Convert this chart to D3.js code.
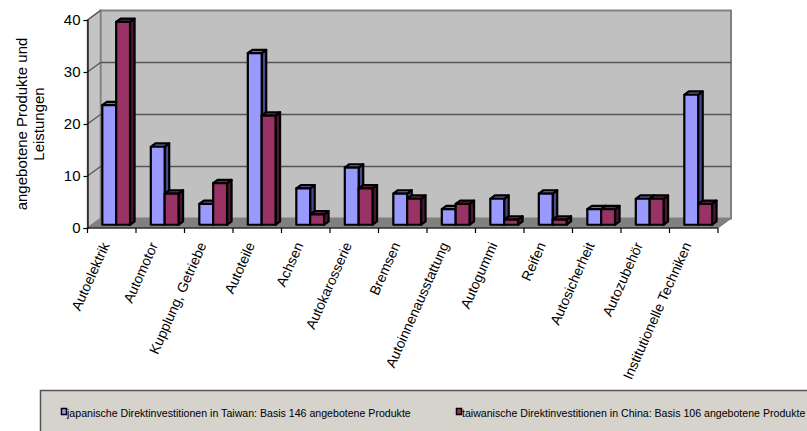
<!DOCTYPE html>
<html>
<head>
<meta charset="utf-8">
<script src="https://cdn.jsdelivr.net/npm/d3@7"></script>
<style>
  html, body { margin: 0; padding: 0; background: #ffffff; }
  svg { display: block; font-family: Arial, "Liberation Sans", sans-serif; }
</style>
</head>
<body>
<svg id="chart" width="807" height="431"></svg>
<script>
// Categories and values (3D clustered columns)
const categories = [
  "Autoelektrik", "Automotor", "Kupplung, Getriebe", "Autoteile", "Achsen",
  "Autokarosserie", "Bremsen", "Autoinnenausstattung", "Autogummi", "Reifen",
  "Autosicherheit", "Autozubehör", "Institutionelle Techniken"
];
const seriesNames = [
  "japanische Direktinvestitionen in Taiwan: Basis 146 angebotene Produkte",
  "taiwanische Direktinvestitionen in China: Basis 106 angebotene Produkte"
];
const japanValues  = [23, 15, 4, 33, 7, 11, 6, 3, 5, 6, 3, 5, 25];
const taiwanValues = [39, 6, 8, 21, 2, 7, 5, 4, 1, 1, 3, 5, 4];
const yTicks = [0, 10, 20, 30, 40];
const yTitle = ["angebotene Produkte und", "Leistungen"];

const seriesValues = [japanValues, taiwanValues];
const faceColors = [
  { front: "#9999FF", top: "#7070C0", side: "#4A4A8C" },
  { front: "#993366", top: "#772850", side: "#4A1830" }
];

const svg = d3.select("#chart");

// Front plane of the plot, plus the depth offset of the back wall
const plotLeft = 87.5, plotRight = 718, plotBottom = 228, plotTop = 20;
const DX = 13, DY = -9.5;
const d0 = 0.34, d1 = 0.69; // bar depth span as a fraction of the plot depth

const x0 = d3.scaleBand().domain(categories).range([plotLeft, plotRight]).paddingInner(0).paddingOuter(0);
const x1 = d3.scaleBand().domain([0, 1]).range([0, x0.bandwidth()]).paddingInner(0).paddingOuter(0.75);
const y = d3.scaleLinear().domain([0, 40]).range([plotBottom, plotTop]);

const pts = a => a.map(p => p.join(",")).join(" ");

// Walls and floor
const g = svg.append("g");
g.append("polygon")
  .attr("points", pts([[plotLeft + DX, y(40) + DY], [plotRight + DX, y(40) + DY], [plotRight + DX, y(0) + DY], [plotLeft + DX, y(0) + DY]]))
  .attr("fill", "#C0C0C0").attr("stroke", "#808080").attr("stroke-width", 2);
g.append("polygon")
  .attr("points", pts([[plotLeft, y(40)], [plotLeft + DX, y(40) + DY], [plotLeft + DX, y(0) + DY], [plotLeft, y(0)]]))
  .attr("fill", "#C4C4C4").attr("stroke", "#808080").attr("stroke-width", 1.5);
g.append("polygon")
  .attr("points", pts([[plotLeft, y(0)], [plotLeft + DX, y(0) + DY], [plotRight + DX, y(0) + DY], [plotRight, y(0)]]))
  .attr("fill", "#808080").attr("stroke", "#808080").attr("stroke-width", 1);

// Gridlines on the back wall and the side wall
yTicks.filter(t => t > 0 && t < 40).forEach(t => {
  g.append("line")
    .attr("x1", plotLeft + DX).attr("x2", plotRight + DX)
    .attr("y1", y(t) + DY).attr("y2", y(t) + DY)
    .attr("stroke", "#555555").attr("stroke-width", 1.5);
});
yTicks.filter(t => t > 0).forEach(t => {
  g.append("line")
    .attr("x1", plotLeft).attr("y1", y(t))
    .attr("x2", plotLeft + DX).attr("y2", y(t) + DY)
    .attr("stroke", "#555555").attr("stroke-width", 1.2);
});

// Bars
const bars = svg.append("g");
categories.forEach((c, i) => {
  seriesValues.forEach((vals, s) => {
    const v = vals[i];
    const xa = x0(c) + x1(s) + d0 * DX;
    const xb = xa + x1.bandwidth();
    const yBase = y(0) + d0 * DY;
    const yTopV = y(v) + d0 * DY;
    const ddx = (d1 - d0) * DX, ddy = (d1 - d0) * DY;
    const col = faceColors[s];
    const bg = bars.append("g").attr("stroke", "#000").attr("stroke-width", 2.2).attr("stroke-linejoin", "round");
    bg.append("polygon").attr("points", pts([[xb, yTopV], [xb + ddx, yTopV + ddy], [xb + ddx, yBase + ddy], [xb, yBase]])).attr("fill", col.side);
    bg.append("polygon").attr("points", pts([[xa, yTopV], [xa + ddx, yTopV + ddy], [xb + ddx, yTopV + ddy], [xb, yTopV]])).attr("fill", col.top);
    bg.append("rect").attr("x", xa).attr("y", yTopV).attr("width", xb - xa).attr("height", yBase - yTopV).attr("fill", col.front);
  });
});

// Axes
const yAxis = d3.axisLeft(y).tickValues(yTicks).tickSize(4).tickPadding(3);
const ya = svg.append("g").attr("transform", `translate(${plotLeft},0)`).call(yAxis);
ya.select(".domain").attr("stroke", "#000").attr("stroke-width", 1.2);
ya.selectAll(".tick line").attr("stroke", "#000").attr("stroke-width", 1.2);
ya.selectAll(".tick text").attr("font-size", 15).attr("fill", "#000").attr("font-family", "Arial, 'Liberation Sans', sans-serif");

const xTickPos = d3.range(categories.length + 1).map(i => plotLeft + i * x0.step());
svg.append("line").attr("x1", plotLeft).attr("x2", plotRight).attr("y1", plotBottom).attr("y2", plotBottom)
  .attr("stroke", "#000").attr("stroke-width", 1.2);
svg.append("g").selectAll("line").data(xTickPos).join("line")
  .attr("x1", d => d).attr("x2", d => d).attr("y1", plotBottom).attr("y2", plotBottom + 5)
  .attr("stroke", "#000").attr("stroke-width", 1.2);

// Rotated category labels
svg.append("g").selectAll("text").data(categories).join("text")
  .attr("transform", d => `translate(${x0(d) + x0.bandwidth() / 2 - 2},${plotBottom + 17}) rotate(-66)`)
  .attr("text-anchor", "end")
  .attr("font-size", 14)
  .attr("fill", "#000")
  .text(d => d);

// Y-axis title
const yTitleText = svg.append("text")
  .attr("transform", "translate(27,124) rotate(-90)")
  .attr("text-anchor", "middle")
  .attr("font-size", 15)
  .attr("fill", "#000");
yTitle.forEach((line, i) => {
  yTitleText.append("tspan").attr("x", 0).attr("dy", i === 0 ? 0 : 17).text(line);
});

// Legend
svg.append("rect")
  .attr("x", 40.5).attr("y", 390.5).attr("width", 800).attr("height", 60)
  .attr("fill", "#D6D2CC").attr("stroke", "#555555").attr("stroke-width", 1.5);
const legendX = [61, 456];
seriesNames.forEach((name, s) => {
  const lg = svg.append("g").attr("transform", `translate(${legendX[s]},408)`);
  lg.append("rect").attr("x", 0.5).attr("y", 0.5).attr("width", 5).attr("height", 6)
    .attr("fill", faceColors[s].front).attr("stroke", "#000").attr("stroke-width", 1.5);
  lg.append("text").attr("x", 6).attr("y", 8.5).attr("font-size", 10.6).attr("fill", "#000").text(name);
});
</script>
</body>
</html>
